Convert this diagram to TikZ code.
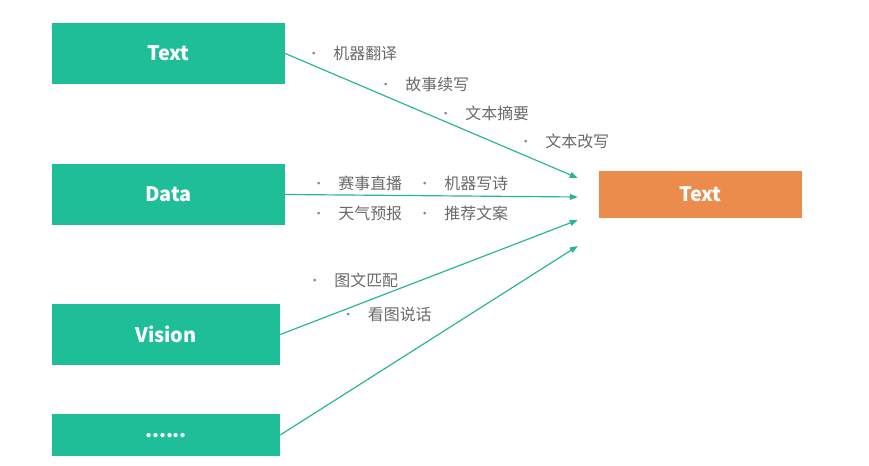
\documentclass[tikz,border=0pt]{standalone}
\usepackage{xcolor}
\usepackage{fontspec}
\setmainfont{Noto Sans CJK SC}
\usepackage{tikz}
\usetikzlibrary{positioning, arrows.meta}
\definecolor{srcG}{RGB}{ 30,190,152}
\definecolor{dstO}{RGB}{235,140, 76}
\definecolor{lnkG}{RGB}{ 40,180,150}
\definecolor{appT}{RGB}{105,105,105}
\newcommand{\bul}{\makebox[0.74cm][l]{\hspace{-0.04cm}\fontsize{11}{11}\selectfont\raisebox{0.05em}{\color{appT!80}•}}}

\begin{document}
\begin{tikzpicture}[
    src/.style={draw=none, fill=srcG, text=white, minimum height=1.83cm,
                align=center, font=\fontsize{17}{20}\selectfont\bfseries},
    dst/.style={draw=none, fill=dstO, text=white, minimum width=6.09cm, minimum height=1.41cm,
                font=\fontsize{17}{20}\selectfont\bfseries},
    app/.style={anchor=west, inner sep=0pt, text=appT, font=\fontsize{13.6}{16}\selectfont},
    lnk/.style={-{Triangle[length=0.24cm, width=0.18cm]}, line width=1pt, lnkG}
  ]
  \useasboundingbox (0,0) rectangle (26.07,13.98);
  % sources
  \node[src, minimum width=6.99cm] (text) at (5.055,12.375) {Text};
  \node[src, minimum width=6.99cm] (data) at (5.055,8.145) {Data};
  \node[src, minimum width=6.84cm] (vision) at (4.98,3.945) {Vision};
  \node[src, minimum width=6.84cm, minimum height=1.26cm] (more) at (4.98,0.93) {\raisebox{-0.3em}{......}};
  % target
  \node[dst] (out) at (21.015,8.145) {Text};
  \coordinate (e1) at ([xshift=-0.63cm, yshift=0.495cm]out.west);
  \coordinate (e2) at ([xshift=-0.63cm, yshift=-0.075cm]out.west);
  \coordinate (e3) at ([xshift=-0.63cm, yshift=-0.765cm]out.west);
  \coordinate (e4) at ([xshift=-0.63cm, yshift=-1.545cm]out.west);
  \draw[lnk] (text.east) -- (e1);
  \draw[lnk] (data.east) -- (e2);
  \draw[lnk] (vision.east) -- (e3);
  \draw[lnk] (more.east) -- (e4);
  % applications
  \node[app] (t1) at (9.255,12.39) {\bul 机器翻译};
  \node[app] (t2) at (11.415,11.46) {\bul 故事续写};
  \node[app] (t3) at (13.215,10.59) {\bul 文本摘要};
  \node[app] (t4) at (15.615,9.75) {\bul 文本改写};
  \node[app] (d1) at (9.405,8.49) {\bul 赛事直播};
  \node[app] (d2) at (12.585,8.49) {\bul 机器写诗};
  \node[app] (d3) at (9.405,7.59) {\bul 天气预报};
  \node[app] (d4) at (12.585,7.59) {\bul 推荐文案};
  \node[app] (v1) at (9.285,5.58) {\bul 图文匹配};
  \node[app] (v2) at (10.29,4.56) {\bul 看图说话};
\end{tikzpicture}
\end{document}
